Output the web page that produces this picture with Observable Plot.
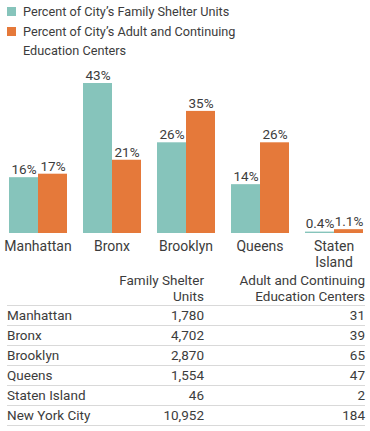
<!DOCTYPE html>
<html>
<head>
<meta charset="utf-8">
<script src="https://cdn.jsdelivr.net/npm/d3@7"></script>
<script src="https://cdn.jsdelivr.net/npm/@observablehq/plot@0.6"></script>
<style>
  html, body { margin: 0; padding: 0; background: #fff; }
  body { width: 370px; height: 431px; position: relative; overflow: hidden;
         font-family: Roboto, sans-serif; color: #3c3c3c; }
  #legend { position: absolute; left: 7px; top: 2px; font-size: 12.7px; line-height: 19.5px; }
  #legend .item { position: relative; padding-left: 16px; width: 260px; }
  #legend .sw { position: absolute; left: 0; top: 5px; width: 9px; height: 9px; }
  #chart { position: absolute; left: 0; top: 0; }
  #table { position: absolute; left: 7px; top: 273px; width: 358px; border-collapse: collapse; font-size: 13.5px; }
  #table th { font-weight: normal; text-align: right; line-height: 15.5px; vertical-align: bottom; padding: 0 0 1px 0; }
  #table td { height: 19px; line-height: 19px; padding: 0; border-top: 1px solid #d9d9d9; }
  #table tr:last-child td { border-bottom: 1px solid #d9d9d9; }
  #table td.num { text-align: right; }
</style>
</head>
<body>
<div id="chart"></div>
<div id="legend"></div>
<table id="table"></table>
<script>
const boroughs = ["Manhattan", "Bronx", "Brooklyn", "Queens", "Staten Island"];
const seriesNames = ["Percent of City’s Family Shelter Units", "Percent of City’s Adult and Continuing Education Centers"];
const shelterPct = [16, 43, 26, 14, 0.4];
const educationPct = [17, 21, 35, 26, 1.1];
const pctLabels = [["16%", "17%"], ["43%", "21%"], ["26%", "35%"], ["14%", "26%"], ["0.4%", "1.1%"]];
const colors = ["#86c4bb", "#e5793a"];

const tableRows = ["Manhattan", "Bronx", "Brooklyn", "Queens", "Staten Island", "New York City"];
const shelterUnits = ["1,780", "4,702", "2,870", "1,554", "46", "10,952"];
const eduCenters = ["31", "39", "65", "47", "2", "184"];
const tableHeaders = ["Family Shelter\nUnits", "Adult and Continuing\nEducation Centers"];

const data = [];
boroughs.forEach((b, i) => {
  data.push({borough: b, series: "s", value: shelterPct[i], label: pctLabels[i][0]});
  data.push({borough: b, series: "e", value: educationPct[i], label: pctLabels[i][1]});
});

const plot = Plot.plot({
  width: 370,
  height: 272,
  marginLeft: 7,
  marginRight: 5,
  marginTop: 83,
  marginBottom: 39,
  style: {fontFamily: "Roboto, sans-serif", fontSize: "13px", color: "#3c3c3c", background: "transparent"},
  fx: {domain: boroughs, paddingInner: 0.2, paddingOuter: 0, label: null, axis: null},
  x: {domain: ["s", "e"], padding: 0, axis: null},
  y: {domain: [0, 43], axis: null},
  color: {domain: ["s", "e"], range: colors},
  marks: [
    Plot.barY(data, {fx: "borough", x: "series", y: "value", fill: "series", insetLeft: 0, insetRight: 0}),
    Plot.text(data, {fx: "borough", x: "series", y: "value", text: "label", dy: -8, fill: "#3c3c3c", fontSize: 13.5}),
    Plot.axisFx({anchor: "bottom", tickSize: 0, tickPadding: 7, fontSize: 14, lineHeight: 1.1, fill: "#3c3c3c",
      tickFormat: d => d === "Staten Island" ? "Staten\nIsland" : d, label: null})
  ]
});
document.getElementById("chart").appendChild(plot);

const legend = document.getElementById("legend");
seriesNames.forEach((name, i) => {
  const item = document.createElement("div");
  item.className = "item";
  const sw = document.createElement("span");
  sw.className = "sw";
  sw.style.background = colors[i];
  item.appendChild(sw);
  item.appendChild(document.createTextNode(name));
  legend.appendChild(item);
});

const table = document.getElementById("table");
const thead = document.createElement("tr");
thead.appendChild(document.createElement("th"));
tableHeaders.forEach(h => {
  const th = document.createElement("th");
  th.innerHTML = h.split("\n").join("<br>");
  thead.appendChild(th);
});
table.appendChild(thead);
tableRows.forEach((r, i) => {
  const tr = document.createElement("tr");
  [r, shelterUnits[i], eduCenters[i]].forEach((v, j) => {
    const td = document.createElement("td");
    td.textContent = v;
    if (j > 0) td.className = "num";
    tr.appendChild(td);
  });
  table.appendChild(tr);
});
table.querySelectorAll("tr").forEach(tr => {
  const cells = tr.children;
  cells[0].style.width = "110px";
  cells[1].style.width = "87px";
});
</script>
</body>
</html>
